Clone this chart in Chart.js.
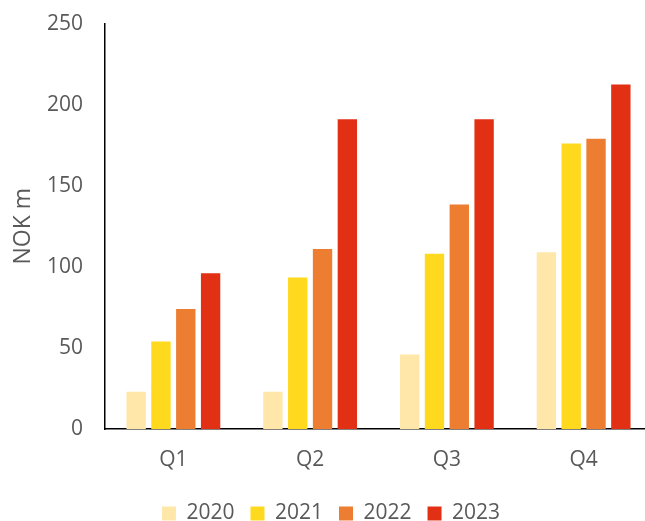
<!DOCTYPE html>
<html>
<head>
<meta charset="utf-8">
<script src="https://cdn.jsdelivr.net/npm/chart.js@4/dist/chart.umd.min.js"></script>
<style>
  html, body { margin: 0; padding: 0; background: #fff; overflow: hidden; }
  #wrap { width: 645px; height: 521px; overflow: hidden; position: relative; }
  #wrap canvas { position: absolute; left: 0; top: -11px; }
</style>
</head>
<body>
<div id="wrap"><canvas id="c" width="652" height="545"></canvas></div>
<script>
// Quarterly figures, NOK million
const quarters = ['Q1', 'Q2', 'Q3', 'Q4'];
const years = ['2020', '2021', '2022', '2023'];
const values2020 = [23, 23, 46, 109];
const values2021 = [54, 93.5, 108, 176];
const values2022 = [74, 111, 138.5, 179];
const values2023 = [96, 191, 191, 212.5];
const yearColors = ['#FFE7A9', '#FFD91E', '#ED7D31', '#E13013'];
const yTicks = [0, 50, 100, 150, 200, 250];

const seriesValues = [values2020, values2021, values2022, values2023];
const textGrey = '#595959';
const baseFont = 'Open Sans';

new Chart(document.getElementById('c'), {
  type: 'bar',
  data: {
    labels: quarters,
    datasets: years.map((y, i) => ({
      label: y,
      data: seriesValues[i],
      backgroundColor: yearColors[i],
      borderWidth: 0,
      categoryPercentage: 0.726,
      barPercentage: 0.78
    }))
  },
  options: {
    responsive: false,
    animation: false,
    layout: { padding: { top: 11, left: 10, right: 0, bottom: 0 } },
    plugins: {
      tooltip: { enabled: false },
      legend: {
        position: 'bottom',
        labels: {
          boxWidth: 14,
          boxHeight: 14,
          padding: 16,
          color: textGrey,
          font: { family: baseFont, size: 21 }
        }
      }
    },
    scales: {
      x: {
        grid: { display: false, drawTicks: false },
        border: { display: true, color: '#000', width: 1.5 },
        ticks: { color: textGrey, padding: 18, font: { family: baseFont, size: 21 } },
        afterFit: s => { s.height = 58; }
      },
      y: {
        min: 0,
        max: 250,
        afterBuildTicks: s => { s.ticks = yTicks.map(v => ({ value: v })); },
        grid: { display: false, drawTicks: false },
        border: { display: true, color: '#000', width: 1.5 },
        ticks: { color: textGrey, padding: 22, font: { family: baseFont, size: 21 } },
        title: {
          display: true,
          text: 'NOK m',
          color: textGrey,
          font: { family: baseFont, size: 23 },
          padding: { top: 0, bottom: 0 }
        },
        afterFit: s => { s.width = 95; }
      }
    }
  }
});
</script>
</body>
</html>
